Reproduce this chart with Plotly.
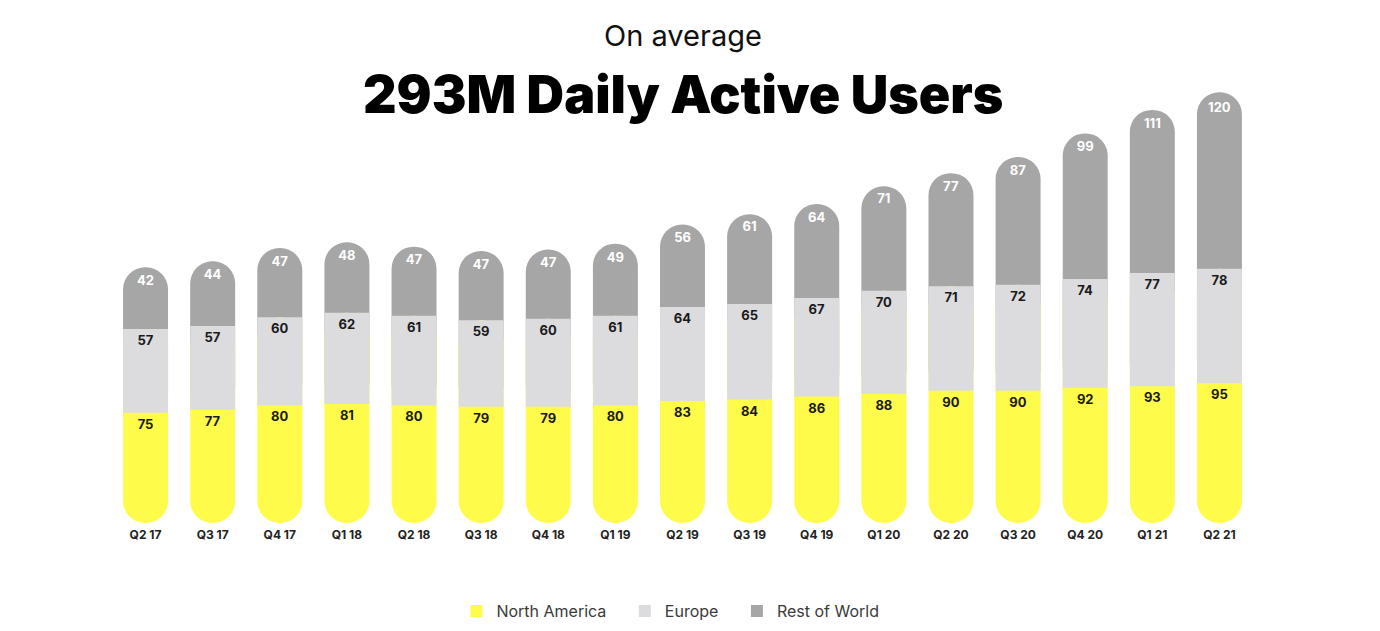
import plotly.graph_objects as go

quarters = ["Q2 17", "Q3 17", "Q4 17", "Q1 18", "Q2 18", "Q3 18", "Q4 18", "Q1 19",
            "Q2 19", "Q3 19", "Q4 19", "Q1 20", "Q2 20", "Q3 20", "Q4 20", "Q1 21", "Q2 21"]
north_america = [75, 77, 80, 81, 80, 79, 79, 80, 83, 84, 86, 88, 90, 90, 92, 93, 95]
europe = [57, 57, 60, 62, 61, 59, 60, 61, 64, 65, 67, 70, 71, 72, 74, 77, 78]
rest_of_world = [42, 44, 47, 48, 47, 47, 47, 49, 56, 61, 64, 71, 77, 87, 99, 111, 120]
series_names = ["North America", "Europe", "Rest of World"]

YELLOW = "#FFFB4A"
LIGHT = "#DCDCDE"
GRAY = "#A6A6A6"
DARK_TXT = "#1a1a1a"

n = len(quarters)
zeros = [0] * n
eu_plus_row = [e + r for e, r in zip(europe, rest_of_world)]
na_plus_eu = [a + e for a, e in zip(north_america, europe)]
label_font = dict(family="Inter", size=13, weight=700)

fig = go.Figure()
# Rest of World: pill from Europe base to total (lower round end hidden under Europe)
fig.add_trace(go.Bar(
    x=quarters, y=eu_plus_row, base=north_america, showlegend=False,
    marker=dict(color=GRAY, cornerradius="50%", line=dict(width=0)),
    text=[str(v) for v in rest_of_world], textposition="inside", insidetextanchor="end",
    textangle=0, textfont=dict(label_font, color="#ffffff"), hoverinfo="skip",
))
# North America: pill from 0 up to Europe top (upper round end hidden under Europe)
fig.add_trace(go.Bar(
    x=quarters, y=na_plus_eu, base=zeros, showlegend=False,
    marker=dict(color=YELLOW, cornerradius="50%", line=dict(width=0)),
    hoverinfo="skip",
))
# Europe: plain middle segment
fig.add_trace(go.Bar(
    x=quarters, y=europe, base=north_america, showlegend=False,
    marker=dict(color=LIGHT, line=dict(width=0)),
    text=[str(v) for v in europe], textposition="inside", insidetextanchor="end",
    textangle=0, textfont=dict(label_font, color=DARK_TXT), hoverinfo="skip",
))
# North America labels (transparent segment 0..NA)
fig.add_trace(go.Bar(
    x=quarters, y=north_america, base=zeros, showlegend=False,
    marker=dict(color="rgba(0,0,0,0)", line=dict(width=0)),
    text=[str(v) for v in north_america], textposition="inside", insidetextanchor="end",
    textangle=0, textfont=dict(label_font, color=DARK_TXT), hoverinfo="skip",
))
# Legend entries
pad = "\u00a0" * 3
for name, col, suffix in zip(series_names, [YELLOW, LIGHT, GRAY], [pad, pad, ""]):
    fig.add_trace(go.Bar(x=[None], y=[None], name=name + suffix,
                         marker=dict(color=col, line=dict(width=0)), hoverinfo="skip"))

fig.update_layout(
    width=1380, height=631,
    margin=dict(l=104, r=135, t=74, b=116),
    paper_bgcolor="white", plot_bgcolor="white",
    barmode="overlay", bargap=0.33,
    showlegend=True,
    legend=dict(orientation="h", x=0.480, xref="container", xanchor="center",
                y=28 / 631, yref="container", yanchor="middle",
                font=dict(family="Inter", size=16, color="#3a3a3a"),
                traceorder="normal"),
    xaxis=dict(showgrid=False, zeroline=False, showline=False, ticks="",
               ticklabelstandoff=3,
               tickfont=dict(family="Inter", size=12, color="#222222", weight=700)),
    yaxis=dict(range=[0, 300], visible=False, showgrid=False, zeroline=False),
    font=dict(family="Inter"),
    annotations=[
        dict(text="On average", x=0.5, xref="paper", y=(523 - 35) / 441, yref="paper",
             showarrow=False, xanchor="center", yanchor="middle",
             font=dict(family="Inter", size=29, color="#111111", weight=400)),
        dict(text="293M Daily Active Users", x=0.5, xref="paper", y=(523 - 95) / 441, yref="paper",
             showarrow=False, xanchor="center", yanchor="middle",
             font=dict(family="Inter", size=52, color="#000000", weight=900)),
    ],
)

fig.write_html("out.html")
